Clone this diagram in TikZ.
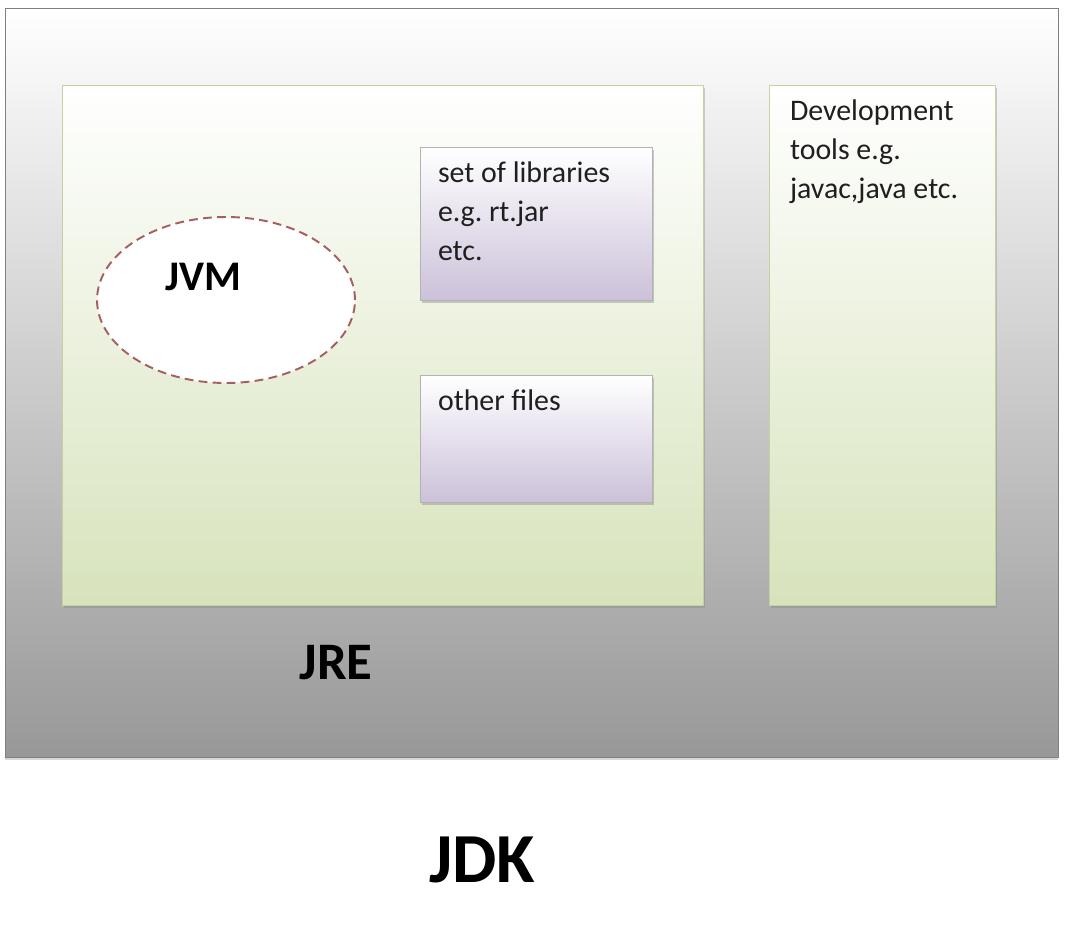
\documentclass[tikz,border=0pt]{standalone}
\usepackage{fontspec}
\setmainfont{Carlito}
\usepackage{tikz}
\usetikzlibrary{positioning,shapes.geometric,shadows}
\frenchspacing
\definecolor{jdkborda}{RGB}{128,128,128}
\definecolor{jdkfundo}{RGB}{152,152,152}
\definecolor{verde}{RGB}{215,227,188}
\definecolor{verdeborda}{RGB}{195,210,160}
\definecolor{lilas}{RGB}{204,193,218}
\definecolor{tracejado}{RGB}{165,95,95}
\tikzset{
    caixaJdk/.style={
        rectangle,
        draw=jdkborda,
        top color=white,
        bottom color=jdkfundo,
        minimum width=21.06cm,
        minimum height=14.98cm,
        drop shadow={shadow xshift=0pt, shadow yshift=-2pt, opacity=0.3}
    },
    caixaVerde/.style={
        rectangle,
        draw=verdeborda,
        top color=white,
        bottom color=verde,
        drop shadow={shadow xshift=1pt, shadow yshift=-1.5pt, opacity=0.35}
    },
    caixaLilas/.style={
        rectangle,
        draw=gray!60,
        top color=white,
        bottom color=lilas,
        minimum width=4.64cm,
        drop shadow={shadow xshift=1pt, shadow yshift=-1.5pt, opacity=0.4}
    },
    texto/.style={
        align=left,
        inner sep=0pt,
        anchor=north west,
        text=black!88,
        font=\fontsize{17}{22}\selectfont
    },
    rotulo/.style={font=\bfseries}
}

\begin{document}
\begin{tikzpicture}[x=0.02cm, y=-0.02cm]
    \useasboundingbox[fill=white] (0,0) rectangle (1076,936);

    \node[caixaJdk] (jdk) at (531.5,382.5) {};
    \node[caixaVerde, minimum width=12.82cm, minimum height=10.4cm] (jre) at (382.5,345) {};
    \node[caixaVerde, minimum width=4.52cm, minimum height=10.4cm] (ferramentas) at (882,345) {};

    \node[caixaLilas, minimum height=3.06cm] (bibliotecas) at (536,223.5) {};
    \node[caixaLilas, minimum height=2.54cm] (outros) at (536,438.5) {};

    \node[ellipse, draw=tracejado, line width=1.1pt, dash pattern=on 5pt off 3pt, fill=white,
          minimum width=5.16cm, minimum height=3.32cm] (jvm) at (226,300) {};

    \node[texto, below right=0.3cm and 0.36cm of bibliotecas.north west] (txtbib)
        {set of libraries\\e.g. rt.jar\\etc.};
    \node[texto, below right=0.3cm and 0.36cm of outros.north west] (txtoutros)
        {other files};
    \node[texto, below right=0.3cm and 0.42cm of ferramentas.north west] (txtferr)
        {Development\\tools e.g.\\javac,java etc.};

    \node[rotulo, font=\fontsize{24}{28}\selectfont\bfseries] (txtjvm) at (203,277) {JVM};
    \node[rotulo, font=\fontsize{30}{34}\selectfont\bfseries] (txtjre) at (336,663) {JRE};
    \node[rotulo, font=\fontsize{40}{44}\selectfont\bfseries] (txtjdk) at (482,860) {JDK};
\end{tikzpicture}
\end{document}
